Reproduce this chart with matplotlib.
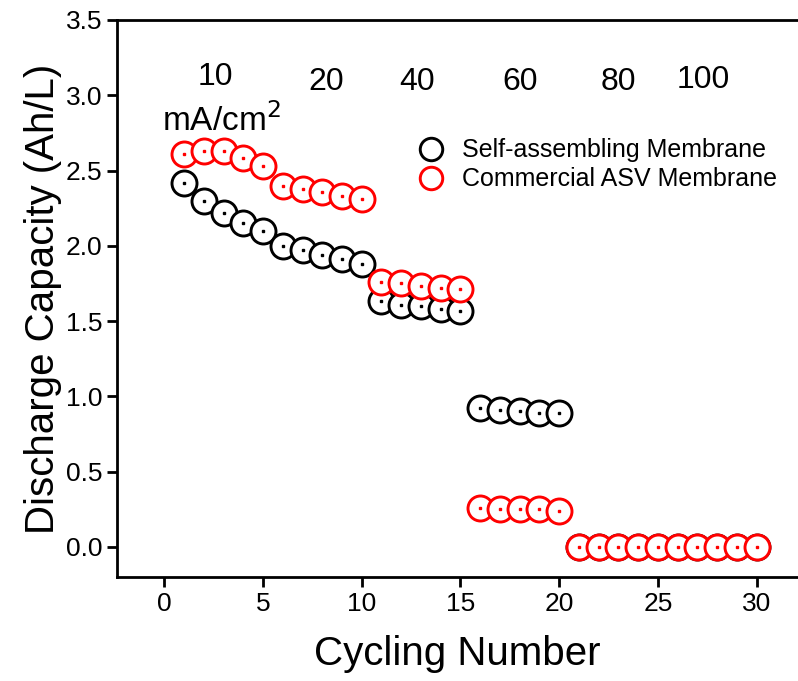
import numpy as np
import matplotlib.pyplot as plt

plt.rcParams['font.family'] = ['Liberation Sans', 'DejaVu Sans']

cycles = np.arange(1, 31)
self_assembling = [2.42, 2.30, 2.22, 2.15, 2.10, 2.00, 1.97, 1.94, 1.91, 1.88,
                   1.63, 1.61, 1.60, 1.58, 1.57, 0.92, 0.91, 0.90, 0.89, 0.89,
                   0, 0, 0, 0, 0, 0, 0, 0, 0, 0]
commercial = [2.61, 2.63, 2.63, 2.58, 2.53, 2.40, 2.38, 2.36, 2.33, 2.31,
              1.76, 1.75, 1.73, 1.72, 1.71, 0.26, 0.25, 0.25, 0.25, 0.24,
              0, 0, 0, 0, 0, 0, 0, 0, 0, 0]
rate_labels = ['10', '20', '40', '60', '80', '100']
rate_x = [2.6, 8.2, 12.8, 18.0, 23.0, 27.3]
rate_y = [3.12, 3.09, 3.09, 3.09, 3.09, 3.10]

fig = plt.figure(figsize=(7.98, 6.81), dpi=100)
ax = fig.add_axes([0.1466, 0.1527, 0.8534, 0.818])

ax.plot(cycles, self_assembling, 'o', ms=18, mfc='white', mec='black', mew=2.1,
        label='Self-assembling Membrane')
ax.plot(cycles, self_assembling, 's', ms=1.6, color='black')
ax.plot(cycles, commercial, 'o', ms=18, mfc='white', mec='red', mew=2.1,
        label='Commercial ASV Membrane')
ax.plot(cycles, commercial, 's', ms=1.6, color='red')

for t, x, y in zip(rate_labels, rate_x, rate_y):
    ax.text(x, y, t, fontsize=23, ha='center', va='center')
ax.text(2.9, 2.83, 'mA/cm$^2$', fontsize=24, ha='center', va='center')

ax.set_xlim(-2.4, 32.1)
ax.set_ylim(-0.2, 3.5)
ax.set_xticks([0, 5, 10, 15, 20, 25, 30])
ax.set_yticks(np.arange(0, 3.51, 0.5))
ax.yaxis.set_major_formatter(plt.FormatStrFormatter('%.1f'))
ax.tick_params(direction='out', length=7, width=2, labelsize=19)
for s in ['left', 'bottom', 'top']:
    ax.spines[s].set_linewidth(2)
ax.spines['right'].set_visible(False)

ax.set_xlabel('Cycling Number', fontsize=29, labelpad=14)
ax.set_ylabel('Discharge Capacity (Ah/L)', fontsize=29, labelpad=3)

ax.legend(loc='upper left', bbox_to_anchor=(0.40, 0.828), frameon=False,
          fontsize=18, markerscale=0.9, handletextpad=0.5, labelspacing=0.2,
          handlelength=1.5)

fig.savefig('out.png', dpi=100)
